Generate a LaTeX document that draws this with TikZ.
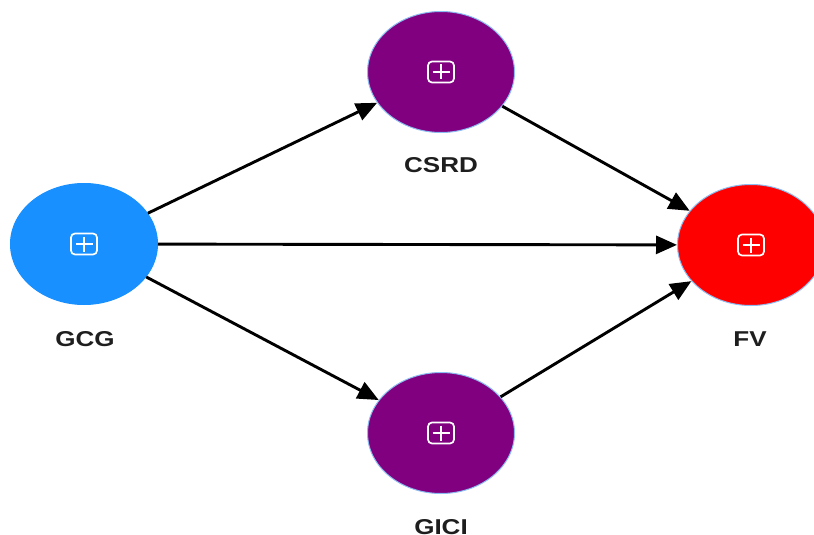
\documentclass[tikz,border=0pt]{standalone}
\usepackage{fontspec}
\setmainfont{Liberation Sans}
\usepackage{graphicx}
\usetikzlibrary{shapes.geometric,arrows.meta}
\definecolor{gcgblue}{HTML}{1890FF}
\definecolor{nodepurple}{HTML}{800080}
\definecolor{nodered}{HTML}{FF0000}
\definecolor{rimblue}{HTML}{8CBDF2}
\definecolor{labtext}{HTML}{1E1E1E}
\newcommand{\mylab}[1]{\scalebox{1.21}[1]{#1}}
\tikzset{
  ell/.style={ellipse, draw=rimblue, line width=1pt, minimum width=147pt, minimum height=121pt, inner sep=0pt},
  lbl/.style={font=\bfseries\fontsize{21.5}{26}\selectfont, text=labtext, inner sep=0pt},
  edge/.style={draw=black, line width=2.9pt, -{Triangle[length=21pt,width=18pt]}},
  plusicon/.pic={
    \draw[white, line width=1.7pt, rounded corners=4pt] (-13,-10.5) rectangle (13,10.5);
    \draw[white, line width=1.7pt] (-8.5,0) -- (8.5,0) (0,-7.5) -- (0,7.5);
  }
}
\begin{document}
\begin{tikzpicture}[x=1pt,y=-1pt]
\useasboundingbox (0,0) rectangle (814,535);
\clip (0,0) rectangle (814,535);
\fill[white] (0,0) rectangle (814,535);
\node[ell, fill=gcgblue, draw=gcgblue] (gcg) at (84,244) {};
\node[ell, fill=nodepurple] (csrd) at (441,72) {};
\node[ell, fill=nodepurple] (gici) at (441,433) {};
\node[ell, fill=nodered] (fv) at (751,245) {};
\pic at (gcg.center) {plusicon};
\pic at (csrd.center) {plusicon};
\pic at (gici.center) {plusicon};
\pic at (fv.center) {plusicon};
\node[lbl] (gcgl) at (85,339) {\mylab{GCG}};
\node[lbl] (csrdl) at (441,165) {\mylab{CSRD}};
\node[lbl] (fvl) at (750,339) {\mylab{FV}};
\node[lbl] (gicil) at (441,527) {\mylab{GICI}};
\draw[edge] (gcg) -- (csrd);
\draw[edge] (gcg) -- (fv);
\draw[edge] (gcg) -- (gici);
\draw[edge] (csrd) -- (fv);
\draw[edge] (gici) -- (fv);
\end{tikzpicture}
\end{document}
